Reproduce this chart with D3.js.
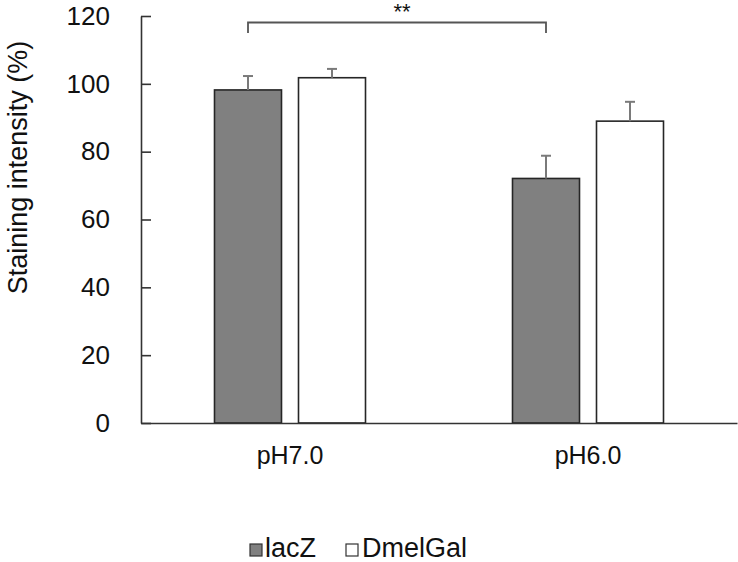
<!DOCTYPE html>
<html><head><meta charset="utf-8">
<script src="https://cdn.jsdelivr.net/npm/d3@7/dist/d3.min.js"></script>
<style>body{margin:0;background:#fff}svg{display:block}text{font-family:"Liberation Sans",Arial,sans-serif;fill:#111}</style>
</head><body><svg id="c" width="738" height="562"></svg>
<script>
const categories = ["pH7.0", "pH6.0"];
const seriesNames = ["lacZ", "DmelGal"];
const lacZ = [98.2, 72.1];
const lacZErr = [4.1, 6.7];
const dmelGal = [101.8, 89.0];
const dmelGalErr = [2.6, 5.7];
const yTicks = [0, 20, 40, 60, 80, 100, 120];
const sigLabel = "**";

const svg = d3.select("#c");
const mLeft = 141, mRight = 737, mTop = 16, mBottom = 423;
const x = d3.scaleBand().domain(categories).range([mLeft, mRight]);
const y = d3.scaleLinear().domain([0, 120]).range([mBottom, mTop]);
const barW = 67, gap = 17;
const colors = ["#808080", "#ffffff"];
const series = [{name: seriesNames[0], v: lacZ, e: lacZErr}, {name: seriesNames[1], v: dmelGal, e: dmelGalErr}];
const barX = (ci, si) => x(categories[ci]) + x.bandwidth()/2 - (2*barW+gap)/2 + si*(barW+gap);

// bars
series.forEach((s, si) => {
  const g = svg.append("g");
  s.v.forEach((v, ci) => {
    const bx = barX(ci, si);
    g.append("rect").attr("x", bx).attr("y", y(v)).attr("width", barW).attr("height", y(0) - y(v))
      .attr("fill", colors[si]).attr("stroke", "#262626").attr("stroke-width", 1.6);
    const cx = bx + barW/2;
    g.append("line").attr("x1", cx).attr("x2", cx).attr("y1", y(v)).attr("y2", y(v + s.e[ci]))
      .attr("stroke", "#7a7a7a").attr("stroke-width", 2);
    g.append("line").attr("x1", cx - 5).attr("x2", cx + 5).attr("y1", y(v + s.e[ci])).attr("y2", y(v + s.e[ci]))
      .attr("stroke", "#7a7a7a").attr("stroke-width", 2);
  });
});

// y axis
const ya = svg.append("g").attr("transform", `translate(${mLeft},0)`)
  .call(d3.axisLeft(y).tickValues(yTicks).tickSize(-10).tickPadding(31).tickSizeOuter(0));
ya.select(".domain").attr("stroke", "#333").attr("stroke-width", 1.6);
ya.selectAll(".tick line").attr("stroke", "#333").attr("stroke-width", 1.6);
ya.selectAll(".tick text").style("font-size", "26px").attr("fill", "#111");

// x axis
const xa = svg.append("g").attr("transform", `translate(0,${mBottom})`)
  .call(d3.axisBottom(x).tickSize(0).tickPadding(23));
xa.select(".domain").attr("stroke", "#333").attr("stroke-width", 1.6);
xa.selectAll(".tick text").style("font-size", "25px").attr("fill", "#111");

// y label
svg.append("text").attr("transform", `translate(27,${(38+297)/2}) rotate(-90)`)
  .attr("text-anchor", "middle").style("font-size", "27px").text("Staining intensity (%)");

// significance bracket
const b1 = barX(0, 0) + barW/2, b2 = barX(1, 0) + barW/2, by = 22.5;
svg.append("path").attr("d", `M${b1},33V${by}H${b2}V33`).attr("fill", "none")
  .attr("stroke", "#555").attr("stroke-width", 1.8);
svg.append("text").attr("x", 402).attr("y", 19).attr("text-anchor", "middle")
  .style("font-size", "22px").text(sigLabel);

// legend
const leg = [{x: 250, tx: 265}, {x: 346, tx: 362}];
series.forEach((s, si) => {
  svg.append("rect").attr("x", leg[si].x).attr("y", 544).attr("width", 12).attr("height", 12)
    .attr("fill", colors[si]).attr("stroke", "#333").attr("stroke-width", 1.2);
  svg.append("text").attr("x", leg[si].tx).attr("y", 557).style("font-size", "27px").text(s.name);
});
</script></body></html>
